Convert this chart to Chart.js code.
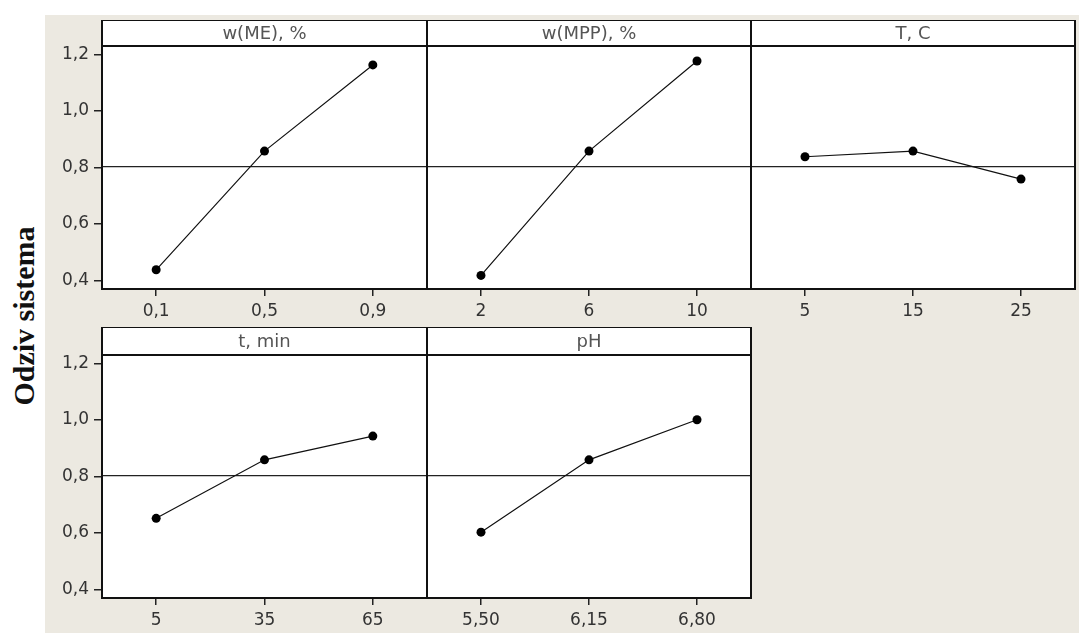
<!DOCTYPE html>
<html>
<head>
<meta charset="utf-8">
<script src="https://cdn.jsdelivr.net/npm/chart.js@4.4.0/dist/chart.umd.min.js"></script>
<style>
body { margin: 0; background: #fff; width: 1079px; height: 633px; overflow: hidden; position: relative; }
#bg { position: absolute; left: 45px; top: 15px; right: 0; bottom: 0; background: #ece9e1; }
#ytitle { position: absolute; left: 24px; top: 316px; transform: translate(-50%, -50%) rotate(-90deg);
  font: bold 30px "Liberation Serif", serif; white-space: nowrap; color: #111; }
canvas { position: absolute; }
</style>
</head>
<body>
<div id="bg"></div>
<div id="ytitle">Odziv sistema</div>
<canvas id="c1"></canvas>
<canvas id="c2"></canvas>
<canvas id="c3"></canvas>
<canvas id="c4"></canvas>
<canvas id="c5"></canvas>
<script>
// y scale shared by all panels
const yTicks = [0.4, 0.6, 0.8, 1.0, 1.2];
const yMin = 0.37, yMax = 1.23;
const meanLine = 0.803;

const meLabels = ['0,1', '0,5', '0,9'];
const meValues = [0.438, 0.858, 1.163];
const mppLabels = ['2', '6', '10'];
const mppValues = [0.418, 0.858, 1.177];
const tempLabels = ['5', '15', '25'];
const tempValues = [0.838, 0.858, 0.759];
const timeLabels = ['5', '35', '65'];
const timeValues = [0.652, 0.859, 0.943];
const phLabels = ['5,50', '6,15', '6,80'];
const phValues = [0.603, 0.859, 1.001];

const tickFont = { family: '"DejaVu Sans", sans-serif', size: 17 };

const framePlugin = {
    id: 'frame',
    beforeDraw(chart, args, opts) {
        const { ctx, chartArea: a } = chart;
        ctx.save();
        ctx.fillStyle = '#fff';
        ctx.fillRect(a.left, a.top - opts.header, a.right - a.left, a.bottom - a.top + opts.header);
        ctx.restore();
    },
    beforeDatasetsDraw(chart) {
        const { ctx, chartArea: a } = chart;
        const y = chart.scales.y.getPixelForValue(meanLine);
        ctx.save();
        ctx.strokeStyle = '#222';
        ctx.lineWidth = 1.3;
        ctx.beginPath();
        ctx.moveTo(a.left, y);
        ctx.lineTo(a.right, y);
        ctx.stroke();
        ctx.restore();
    },
    afterDraw(chart, args, opts) {
        const { ctx, chartArea: a } = chart;
        const top = a.top - opts.header;
        ctx.save();
        ctx.strokeStyle = '#111';
        ctx.lineWidth = 2;
        ctx.strokeRect(a.left, top, a.right - a.left, a.bottom - top);
        ctx.beginPath();
        ctx.moveTo(a.left, a.top);
        ctx.lineTo(a.right, a.top);
        ctx.stroke();
        ctx.fillStyle = '#555';
        ctx.font = '18px "DejaVu Sans", sans-serif';
        ctx.textAlign = 'center';
        ctx.textBaseline = 'middle';
        ctx.fillText(opts.title, (a.left + a.right) / 2, top + opts.header / 2 + 1);
        ctx.restore();
    }
};

function makePanel(id, title, labels, values, box) {
    const canvas = document.getElementById(id);
    const left = box.showY ? 45 : box.left - 2;
    const width = box.right + 2 - left;
    const height = box.bottom - box.headerTop + 36;
    canvas.width = width;
    canvas.height = height;
    canvas.style.left = left + 'px';
    canvas.style.top = box.headerTop + 'px';

    return new Chart(canvas, {
        type: 'line',
        data: {
            labels: labels,
            datasets: [{
                data: values,
                borderColor: '#111',
                borderWidth: 1.2,
                pointRadius: 4.5,
                pointBackgroundColor: '#000',
                pointBorderWidth: 0,
                tension: 0
            }]
        },
        options: {
            responsive: false,
            animation: false,
            layout: {
                autoPadding: false,
                padding: { top: box.top - box.headerTop, left: 0, right: 2, bottom: 0 }
            },
            plugins: {
                legend: { display: false },
                tooltip: { enabled: false },
                frame: { title: title, header: box.top - box.headerTop }
            },
            scales: {
                x: {
                    type: 'category',
                    offset: true,
                    grid: { offset: false, drawOnChartArea: false, tickLength: 7, color: '#222', lineWidth: 1.5 },
                    border: { display: false },
                    ticks: { font: tickFont, color: '#333', padding: 5, maxRotation: 0, autoSkip: false },
                    afterFit: s => { s.height = 36; }
                },
                y: {
                    min: yMin,
                    max: yMax,
                    grid: { drawOnChartArea: false, drawTicks: box.showY, tickLength: 8, color: '#222', lineWidth: 1.5 },
                    border: { display: false },
                    ticks: {
                        display: box.showY,
                        font: tickFont,
                        color: '#333',
                        padding: 5,
                        callback: v => Number(v).toFixed(1).replace('.', ',')
                    },
                    afterBuildTicks: s => { s.ticks = yTicks.map(v => ({ value: v })); },
                    afterFit: s => { s.width = box.left - left; }
                }
            }
        },
        plugins: [framePlugin]
    });
}

const topRow = { headerTop: 20, top: 46, bottom: 289 };
const bottomRow = { headerTop: 327, top: 355, bottom: 598 };

makePanel('c1', 'w(ME), %', meLabels, meValues, { ...topRow, left: 102, right: 427, showY: true });
makePanel('c2', 'w(MPP), %', mppLabels, mppValues, { ...topRow, left: 427, right: 751, showY: false });
makePanel('c3', 'T, C', tempLabels, tempValues, { ...topRow, left: 751, right: 1075, showY: false });
makePanel('c4', 't, min', timeLabels, timeValues, { ...bottomRow, left: 102, right: 427, showY: true });
makePanel('c5', 'pH', phLabels, phValues, { ...bottomRow, left: 427, right: 751, showY: false });
</script>
</body>
</html>
